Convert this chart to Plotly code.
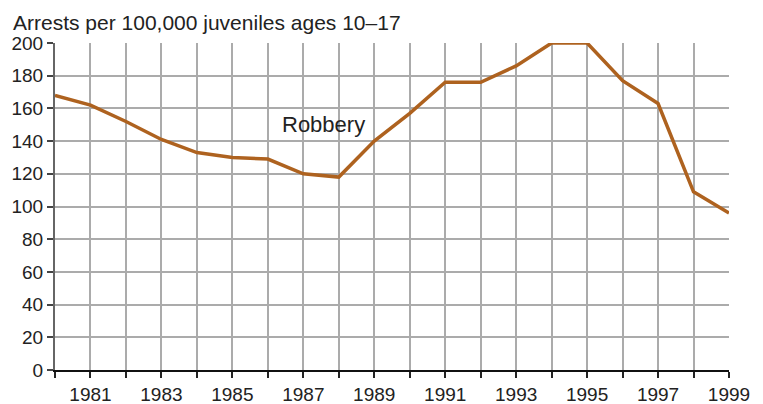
import plotly.graph_objects as go

years = list(range(1980, 2000))
robbery = [168, 162, 152, 141, 133, 130, 129, 120, 118, 140, 157, 176, 176, 186, 200, 200, 177, 163, 109, 96]
y_ticks = list(range(0, 201, 20))
x_labels = [str(y) if y % 2 == 1 else "" for y in years]

fig = go.Figure()
fig.add_trace(go.Scatter(x=years, y=robbery, mode="lines",
                         line=dict(color="#AE621F", width=3.5), showlegend=False))

fig.add_annotation(x=1987.56, y=150, text="Robbery", showarrow=False,
                   font=dict(size=22, color="#222222"), xanchor="center", yanchor="middle")

fig.add_annotation(x=-0.065, xref="paper", y=1.0, yref="paper", yshift=7,
                   text="Arrests per 100,000 juveniles ages 10–17", showarrow=False,
                   xanchor="left", yanchor="bottom",
                   font=dict(size=21, color="#222222"))

fig.update_layout(
    width=763, height=404,
    margin=dict(l=47, r=42, t=35, b=42),
    paper_bgcolor="white", plot_bgcolor="white",
    font=dict(family="Liberation Sans, Arial, sans-serif", size=19, color="#222222"),
)
fig.update_xaxes(range=[1980, 1999], tickvals=years, ticktext=x_labels, automargin=False,
                 showgrid=True, gridcolor="#ABABAB", gridwidth=2,
                 ticks="outside", ticklen=6, tickcolor="#222222", tickwidth=1.5,
                 showline=True, linecolor="#111111", linewidth=2, zeroline=False,
                 fixedrange=True)
fig.update_yaxes(range=[0, 200], tickvals=y_ticks, automargin=False,
                 showgrid=True, gridcolor="#ABABAB", gridwidth=2,
                 ticks="outside", ticklen=6, tickcolor="#444444", tickwidth=1.5,
                 showline=True, linecolor="#666666", linewidth=2, zeroline=False,
                 fixedrange=True)

fig.write_html("out.html")
